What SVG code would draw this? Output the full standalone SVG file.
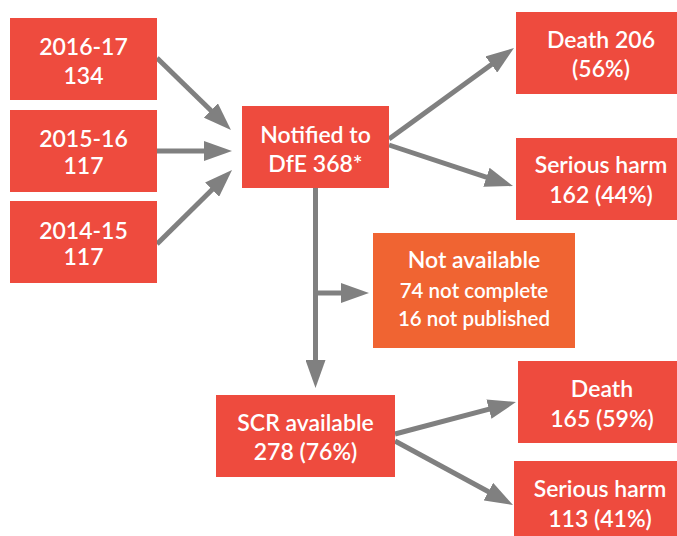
<svg xmlns="http://www.w3.org/2000/svg" width="677" height="536" viewBox="0 0 677 536">
<style>
.box{fill:#EE4B3E}
.box2{fill:#F06432}
.t{font-family:Lato,"Liberation Sans",sans-serif;font-weight:600;font-size:23px;fill:#fff;text-anchor:middle}
.s{font-size:20.5px}
.c{stroke:#808080;stroke-width:5;fill:none;marker-end:url(#ah)}
</style>
<defs>
<marker id="ah" markerUnits="userSpaceOnUse" markerWidth="28" markerHeight="20" refX="18" refY="10" orient="auto">
<path d="M0,0 L28,10 L0,20 z" fill="#808080"/>
</marker>
</defs>
<rect width="677" height="536" fill="#fff"/>
<g id="connectors">
<line class="c" x1="157" y1="58" x2="223.8" y2="123"/>
<line class="c" x1="157" y1="151" x2="222" y2="151"/>
<line class="c" x1="157" y1="244" x2="224.9" y2="177"/>
<line class="c" x1="389" y1="139" x2="505.9" y2="53.9"/>
<line class="c" x1="389" y1="145" x2="503.5" y2="182.9"/>
<line class="c" x1="315.5" y1="188" x2="315.5" y2="378"/>
<line class="c" x1="315.5" y1="293" x2="359" y2="293"/>
<line class="c" x1="395" y1="434" x2="506.3" y2="404.6"/>
<line class="c" x1="395" y1="441" x2="504.2" y2="500.2"/>
</g>
<g id="n2016"><rect class="box" x="10" y="18" width="147" height="82"/><text class="t" x="83.5" y="55">2016-17</text><text class="t" x="83.5" y="84">134</text></g>
<g id="n2015"><rect class="box" x="10" y="110" width="147" height="82"/><text class="t" x="83.5" y="147">2015-16</text><text class="t" x="83.5" y="174">117</text></g>
<g id="n2014"><rect class="box" x="10" y="201" width="147" height="82"/><text class="t" x="83.5" y="239">2014-15</text><text class="t" x="83.5" y="265">117</text></g>
<g id="notified"><rect class="box" x="242" y="106" width="147" height="82"/><text class="t" x="315.5" y="143">Notified to</text><text class="t" x="315.5" y="172">DfE 368*</text></g>
<g id="death1"><rect class="box" x="516" y="12" width="161" height="82"/><text class="t" x="601" y="48">Death 206</text><text class="t" x="601" y="77">(56%)</text></g>
<g id="harm1"><rect class="box" x="516" y="138" width="161" height="82"/><text class="t" x="601" y="173">Serious harm</text><text class="t" x="601" y="203">162 (44%)</text></g>
<g id="notavail"><rect class="box2" x="373" y="233" width="202" height="115"/><text class="t" x="474" y="268">Not available</text><text class="t s" x="474" y="298">74 not complete</text><text class="t s" x="474" y="326">16 not published</text></g>
<g id="scr"><rect class="box" x="216" y="395" width="179" height="82"/><text class="t" x="305.5" y="431">SCR available</text><text class="t" x="305.5" y="460">278 (76%)</text></g>
<g id="death2"><rect class="box" x="518" y="361" width="159" height="82"/><text class="t" x="602" y="397">Death</text><text class="t" x="602" y="427">165 (59%)</text></g>
<g id="harm2"><rect class="box" x="514" y="461" width="163" height="75"/><text class="t" x="600" y="497">Serious harm</text><text class="t" x="600" y="527">113 (41%)</text></g>
</svg>
